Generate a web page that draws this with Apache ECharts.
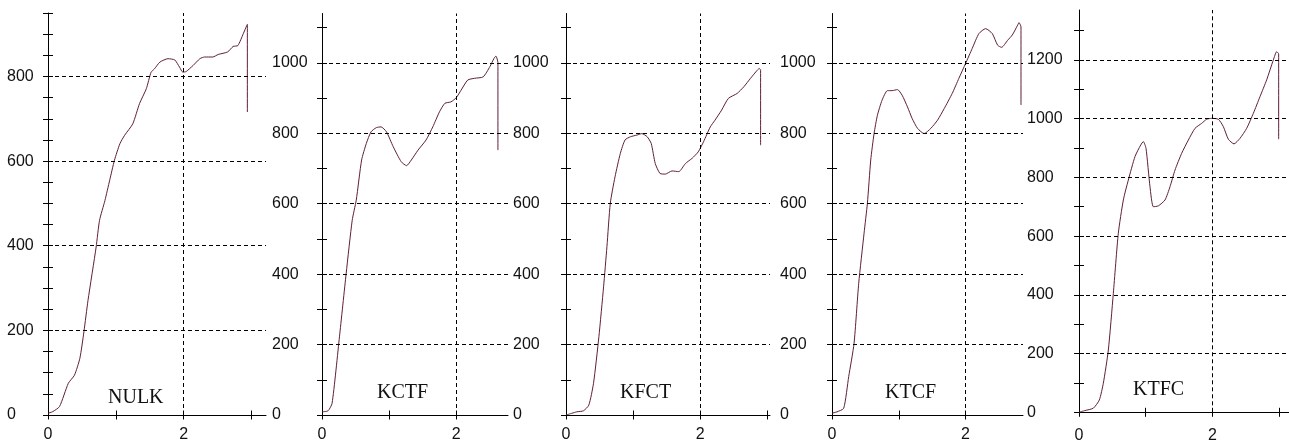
<!DOCTYPE html>
<html>
<head>
<meta charset="utf-8">
<script src="https://cdn.jsdelivr.net/npm/echarts@6/dist/echarts.min.js"></script>
<style>
  html, body { margin: 0; padding: 0; background: #fff; }
  #chart { width: 1289px; height: 446px; }
</style>
</head>
<body>
<div id="chart"></div>
<script>
const panelNames = ['NULK', 'KCTF', 'KFCT', 'KTCF', 'KTFC'];

const nulkX = [0, 0.07, 0.17, 0.3, 0.39, 0.47, 0.53, 0.59, 0.71, 0.76, 0.84, 0.91, 0.98, 1.06, 1.13, 1.25, 1.35, 1.45, 1.52, 1.57, 1.65, 1.77, 1.87, 1.94, 1.99, 2.04, 2.14, 2.24, 2.31, 2.43, 2.51, 2.65, 2.73, 2.8, 2.88, 2.93, 2.94, 2.94];
const nulkY = [4, 8, 20, 75, 94, 134, 197, 271, 397, 460, 507, 555, 602, 641, 661, 688, 736, 771, 810, 818, 834, 842, 839, 822, 810, 812, 826, 842, 846, 846, 852, 858, 871, 873, 901, 920, 923, 716];

const kctfX = [0, 0.09, 0.15, 0.26, 0.36, 0.45, 0.51, 0.59, 0.66, 0.73, 0.81, 0.88, 0.96, 1.06, 1.18, 1.26, 1.33, 1.43, 1.55, 1.65, 1.75, 1.83, 1.92, 2.0, 2.07, 2.17, 2.27, 2.4, 2.5, 2.56, 2.59, 2.62, 2.62];
const kctfY = [9, 12, 33, 222, 402, 553, 610, 724, 771, 804, 816, 818, 804, 762, 719, 708, 724, 752, 781, 818, 861, 885, 889, 901, 922, 951, 956, 960, 989, 1012, 1019, 1000, 752];

const kfctX = [0, 0.09, 0.16, 0.26, 0.34, 0.41, 0.49, 0.56, 0.61, 0.66, 0.73, 0.81, 0.88, 0.96, 1.06, 1.13, 1.21, 1.27, 1.33, 1.4, 1.48, 1.58, 1.68, 1.78, 1.88, 1.97, 2.05, 2.15, 2.22, 2.32, 2.42, 2.55, 2.65, 2.75, 2.85, 2.88, 2.9, 2.9];
const kfctY = [0, 5, 9, 12, 28, 90, 222, 364, 478, 601, 676, 743, 781, 790, 795, 799, 790, 771, 714, 686, 684, 693, 691, 714, 729, 747, 776, 818, 837, 866, 899, 913, 932, 956, 979, 984, 979, 766];

const ktcfX = [0, 0.075, 0.175, 0.25, 0.33, 0.4, 0.48, 0.53, 0.58, 0.63, 0.68, 0.75, 0.83, 0.9, 0.98, 1.05, 1.13, 1.2, 1.28, 1.38, 1.48, 1.58, 1.68, 1.8, 1.9, 2.0, 2.1, 2.2, 2.3, 2.4, 2.48, 2.54, 2.63, 2.7, 2.78, 2.8, 2.83, 2.83];
const ktcfY = [5, 9, 19, 109, 203, 374, 516, 601, 724, 799, 851, 894, 921, 921, 924, 908, 875, 842, 814, 799, 814, 837, 870, 913, 956, 998, 1041, 1083, 1097, 1083, 1050, 1044, 1064, 1079, 1107, 1114, 1102, 880];

const ktfcX = [0, 0.09, 0.215, 0.305, 0.365, 0.44, 0.515, 0.59, 0.665, 0.74, 0.84, 0.925, 0.965, 1.005, 1.065, 1.115, 1.19, 1.29, 1.365, 1.44, 1.54, 1.64, 1.74, 1.84, 1.915, 1.99, 2.09, 2.165, 2.24, 2.325, 2.415, 2.515, 2.615, 2.715, 2.815, 2.915, 2.965, 2.995, 2.995];
const ktfcY = [0, 6, 14, 42, 99, 212, 405, 610, 723, 791, 871, 910, 922, 899, 768, 700, 703, 723, 768, 825, 882, 927, 967, 984, 998, 1001, 998, 973, 930, 914, 933, 967, 1018, 1075, 1132, 1200, 1228, 1220, 930];

const seriesX = [nulkX, kctfX, kfctX, ktcfX, ktfcX];
const seriesY = [nulkY, kctfY, kfctY, ktcfY, ktfcY];

// axis ranges and tick labels
const xMax = [3.215, 2.77, 3.04, 2.86, 3.15];
const xTicks = [[0, 1, 2, 3], [0, 1, 2], [0, 1, 2, 3], [0, 1, 2], [0, 1, 2, 3]];
const xLabels = [0, 2];
const xGridAt = 2;
const yMax = [950, 1140, 1140, 1140, 1370];
const yTickStep = [50, 100, 100, 100, 100];
const yTopTick = [950, 1100, 1100, 1100, 1300];
const yLabels = [
  [0, 200, 400, 600, 800],
  [0, 200, 400, 600, 800, 1000],
  [0, 200, 400, 600, 800, 1000],
  [0, 200, 400, 600, 800, 1000],
  [0, 200, 400, 600, 800, 1000, 1200],
];

// layout
const grids = [
  { left: 48, top: 13, width: 218, height: 402 },
  { left: 322, top: 13.5, width: 186, height: 401.5 },
  { left: 566, top: 13.5, width: 204, height: 401.5 },
  { left: 832, top: 13.5, width: 191, height: 401.5 },
  { left: 1079, top: 10, width: 210, height: 402.3 },
];
const yLabelMargin = [41, 50, 53, 52, 52];
const xLabelMargin = [12, 12, 12, 12, 15];
const titlePos = [[108, 388], [377, 383], [620, 383], [885, 383], [1133, 380]];

const LINE = '#5e1f3a';
const INK = '#000';
const labelFont = { fontFamily: 'Liberation Sans', fontSize: 16, color: '#111' };

function range(step, top) {
  const out = [];
  for (let v = 0; v <= top; v += step) out.push(v);
  return out;
}

const xAxis = [];
const yAxis = [];
const series = [];

grids.forEach((g, i) => {
  const yTickValues = range(yTickStep[i], yTopTick[i]);
  const labelSet = yLabels[i];

  // main axes: line + labels
  xAxis.push({
    type: 'value', gridIndex: i, min: 0, max: xMax[i], interval: 1, position: 'bottom',
    axisLine: { show: true, onZero: false, lineStyle: { color: INK, width: 1 } },
    axisTick: { show: false },
    axisLabel: {
      ...labelFont, margin: xLabelMargin[i], customValues: xLabels,
      formatter: (v) => (xLabels.includes(v) ? String(v) : ''),
    },
    splitLine: { show: false },
  });
  yAxis.push({
    type: 'value', gridIndex: i, min: 0, max: yMax[i], interval: yTickStep[i], position: 'left',
    axisLine: { show: true, onZero: false, lineStyle: { color: INK, width: 1 } },
    axisTick: { show: false },
    axisLabel: {
      ...labelFont, align: 'left', margin: yLabelMargin[i], customValues: labelSet,
      formatter: (v) => (labelSet.includes(v) ? String(v) : ''),
    },
    splitLine: { show: false },
  });
  // tick-only axes, shifted so the ticks cross the axis line
  xAxis.push({
    type: 'value', gridIndex: i, min: 0, max: xMax[i], interval: 1, position: 'bottom', offset: -4.5,
    axisLine: { show: false, onZero: false },
    axisTick: { show: true, length: 9, customValues: xTicks[i], lineStyle: { color: INK } },
    axisLabel: { show: false },
    splitLine: { show: false },
  });
  yAxis.push({
    type: 'value', gridIndex: i, min: 0, max: yMax[i], interval: yTickStep[i], position: 'left', offset: -5,
    axisLine: { show: false, onZero: false },
    axisTick: { show: true, length: 10, customValues: yTickValues, lineStyle: { color: INK } },
    axisLabel: { show: false },
    splitLine: { show: false },
  });

  series.push({
    type: 'line',
    xAxisIndex: i * 2,
    yAxisIndex: i * 2,
    data: seriesX[i].map((x, k) => [x, seriesY[i][k]]),
    showSymbol: false,
    smooth: 0.2,
    lineStyle: { color: LINE, width: 1 },
    silent: true,
    markLine: {
      silent: true,
      symbol: 'none',
      label: { show: false },
      lineStyle: { color: INK, type: [4, 3], width: 1 },
      data: labelSet.filter((v) => v > 0).map((v) => ({ yAxis: v })).concat([{ xAxis: xGridAt }]),
    },
  });
});

const chart = echarts.init(document.getElementById('chart'), null, { renderer: 'canvas' });
chart.setOption({
  backgroundColor: '#fff',
  animation: false,
  title: panelNames.map((name, i) => ({
    text: name,
    left: titlePos[i][0],
    top: titlePos[i][1],
    padding: 0,
    textStyle: { fontFamily: 'Liberation Serif', fontSize: 20, fontWeight: 'normal', color: '#111' },
  })),
  grid: grids.map((g) => ({ ...g, containLabel: false })),
  xAxis,
  yAxis,
  series,
});
</script>
</body>
</html>
